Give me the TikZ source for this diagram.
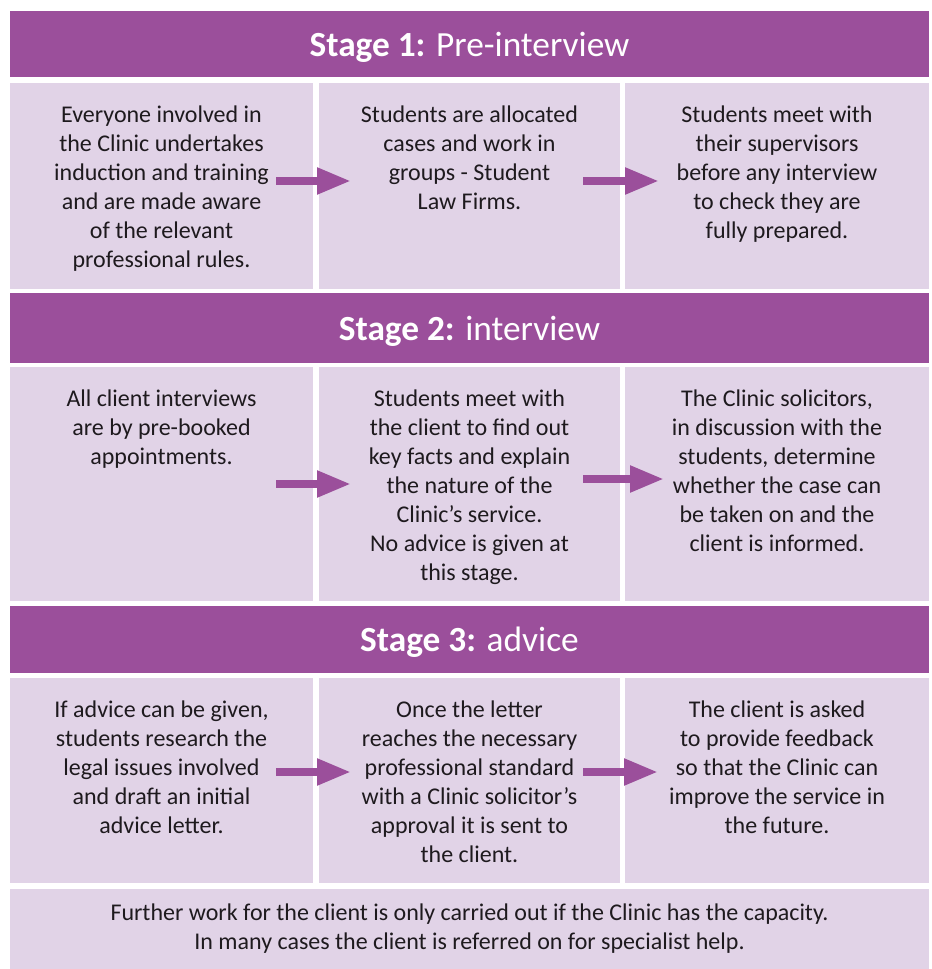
\documentclass[tikz,border=0pt]{standalone}
\usepackage{fontspec}
\setmainfont{Carlito}
\usetikzlibrary{positioning,arrows.meta}
\definecolor{stagepurple}{RGB}{155,79,155}
\definecolor{celllilac}{RGB}{225,211,231}
\definecolor{textgrey}{RGB}{30,26,30}
\begin{document}
\begin{tikzpicture}[x=0.75pt, y=-0.75pt,
  header/.style={fill=stagepurple, minimum width=689.25pt, inner sep=0pt, text depth=0pt, text=white, font=\fontsize{26.5}{30}\selectfont},
  cell/.style={fill=celllilac, inner sep=0pt},
  words/.style={anchor=north, yshift=-17pt, inner sep=0pt, align=center, text=textgrey, font=\fontsize{18}{21.75}\selectfont},
  flow/.style={draw=stagepurple, line width=6pt, -{Triangle[length=25.5pt, width=18.75pt]}}]
  \useasboundingbox (0,0) rectangle (931,969);

  \node (H1) at (469.5, 44) [header, minimum height=49.5pt] {\textbf{Stage 1:} Pre-interview};
  \node (C11) at (161.5, 186) [cell, minimum width=227.25pt, minimum height=154.5pt] {};
  \node (C12) at (469.5, 186) [cell, minimum width=225.75pt, minimum height=154.5pt] {};
  \node (C13) at (777, 186) [cell, minimum width=228pt, minimum height=154.5pt] {};

  \node (H2) at (469.5, 328) [header, minimum height=52.5pt] {\textbf{Stage 2:} interview};
  \node (C21) at (161.5, 484) [cell, minimum width=227.25pt, minimum height=175.5pt] {};
  \node (C22) at (469.5, 484) [cell, minimum width=225.75pt, minimum height=175.5pt] {};
  \node (C23) at (777, 484) [cell, minimum width=228pt, minimum height=175.5pt] {};

  \node (H3) at (469.5, 639.5) [header, minimum height=50.25pt] {\textbf{Stage 3:} advice};
  \node (C31) at (161.5, 780.5) [cell, minimum width=227.25pt, minimum height=153.75pt] {};
  \node (C32) at (469.5, 780.5) [cell, minimum width=225.75pt, minimum height=153.75pt] {};
  \node (C33) at (777, 780.5) [cell, minimum width=228pt, minimum height=153.75pt] {};

  \node (F) at (469.5, 929) [cell, minimum width=689.25pt, minimum height=60pt, align=center, text=textgrey, font=\fontsize{18}{21.75}\selectfont]
    {Further work for the client is only carried out if the Clinic has the capacity.\\In many cases the client is referred on for specialist help.};

  \node (T11) at (C11.north) [words] {Everyone involved in\\the Clinic undertakes\\induction and training\\and are made aware\\of the relevant\\professional rules.};
  \node (T12) at (C12.north) [words] {Students are allocated\\cases and work in\\groups - Student\\Law Firms.};
  \node (T13) at (C13.north) [words] {Students meet with\\their supervisors\\before any interview\\to check they are\\fully prepared.};
  \node (T21) at (C21.north) [words] {All client interviews\\are by pre-booked\\appointments.};
  \node (T22) at (C22.north) [words] {Students meet with\\the client to find out\\key facts and explain\\the nature of the\\Clinic’s service.\\No advice is given at\\this stage.};
  \node (T23) at (C23.north) [words] {The Clinic solicitors,\\in discussion with the\\students, determine\\whether the case can\\be taken on and the\\client is informed.};
  \node (T31) at (C31.north) [words] {If advice can be given,\\students research the\\legal issues involved\\and draft an initial\\advice letter.};
  \node (T32) at (C32.north) [words] {Once the letter\\reaches the necessary\\professional standard\\with a Clinic solicitor’s\\approval it is sent to\\the client.};
  \node (T33) at (C33.north) [words] {The client is asked\\to provide feedback\\so that the Clinic can\\improve the service in\\the future.};

  \coordinate (A11) at (276, 181);  \coordinate (A12) at (351, 181);
  \coordinate (A13) at (583, 181);  \coordinate (A14) at (659, 181);
  \coordinate (A21) at (276, 484);  \coordinate (A22) at (351, 484);
  \coordinate (A23) at (583, 479);  \coordinate (A24) at (664, 479);
  \coordinate (A31) at (276, 772);  \coordinate (A32) at (351, 772);
  \coordinate (A33) at (583, 772);  \coordinate (A34) at (658, 772);
  \draw[flow] (A11) -- (A12);
  \draw[flow] (A13) -- (A14);
  \draw[flow] (A21) -- (A22);
  \draw[flow] (A23) -- (A24);
  \draw[flow] (A31) -- (A32);
  \draw[flow] (A33) -- (A34);
\end{tikzpicture}
\end{document}
